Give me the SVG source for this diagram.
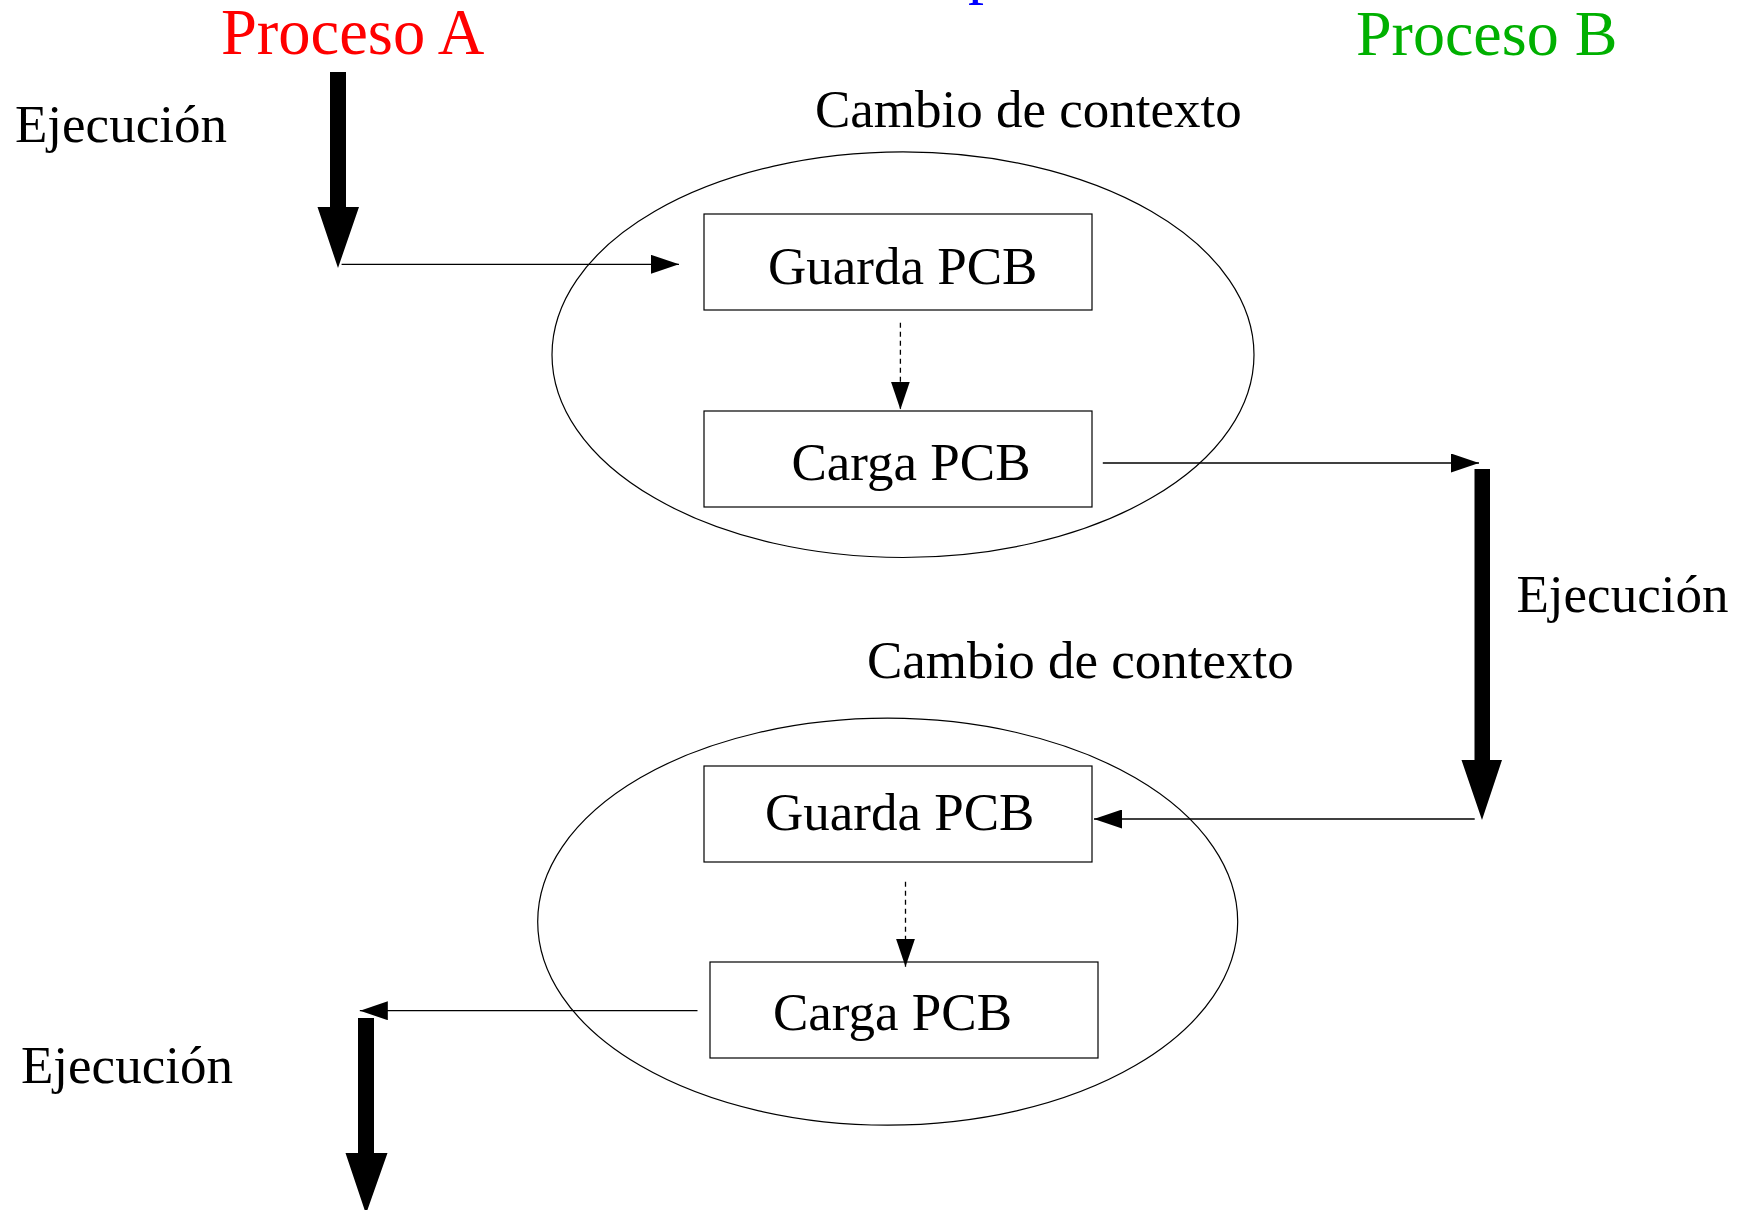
<svg xmlns="http://www.w3.org/2000/svg" width="1740" height="1210" viewBox="0 0 1740 1210">
<style>
text { font-family: "Liberation Serif", "Times New Roman", serif; font-size: 53px; fill: #000; }
.title { font-size: 64px; }
.box { fill: none; stroke: #000; stroke-width: 1.2; }
.ell { fill: none; stroke: #000; stroke-width: 1.2; }
.thin { fill: none; stroke: #000; stroke-width: 1.3; marker-end: url(#ah); }
.dash { fill: none; stroke: #000; stroke-width: 1.3; stroke-dasharray: 5 4; marker-end: url(#ah); }
.thick { fill: #000; stroke: none; }
</style>
<defs>
<marker id="ah" markerUnits="userSpaceOnUse" markerWidth="28" markerHeight="19" refX="28" refY="9.5" orient="auto">
<path d="M0,0 L28,9.5 L0,19 Z" fill="#000"/>
</marker>
</defs>
<rect width="1740" height="1210" fill="#fff"/>
<text class="title" x="968" y="-9" style="fill:#0000ff">p</text>
<g id="procesoA"><text class="title" x="221" y="53.5" style="fill:#ff0000;font-size:64.5px">Proceso A</text></g>
<g id="procesoB"><text class="title" x="1356" y="55" style="fill:#00b000">Proceso B</text></g>
<g id="ejec1"><text x="15" y="141.5">Ejecución</text></g>
<g id="ejec2"><text x="1516.5" y="611.5">Ejecución</text></g>
<g id="ejec3"><text x="21" y="1083">Ejecución</text></g>
<g id="ctx1">
<ellipse class="ell" cx="903" cy="354.7" rx="351" ry="202.8"/>
<text x="815" y="127">Cambio de contexto</text>
</g>
<g id="ctx2">
<ellipse class="ell" cx="887.7" cy="921.7" rx="350" ry="203.5"/>
<text x="867" y="678">Cambio de contexto</text>
</g>
<g id="guarda1"><rect class="box" x="704" y="214" width="388" height="96"/><text x="768" y="283.5">Guarda PCB</text></g>
<g id="carga1"><rect class="box" x="704" y="411" width="388" height="96"/><text x="791.5" y="480">Carga PCB</text></g>
<g id="guarda2"><rect class="box" x="704" y="766" width="388" height="96"/><text x="765" y="829.5">Guarda PCB</text></g>
<g id="carga2"><rect class="box" x="710" y="962" width="388" height="96"/><text x="773" y="1030">Carga PCB</text></g>
<g id="connectors">
<polygon class="thick" points="330,72 346,72 346,207 359,207 338,268 317.5,207 330,207"/>
<polygon class="thick" points="1474.5,469 1490,469 1490,760 1502,760 1482,820 1461.5,760 1474.5,760"/>
<polygon class="thick" points="358,1018 374,1018 374,1153 387.5,1153 366,1214 345.5,1153 358,1153"/>
<line class="thin" x1="341.6" y1="264.3" x2="679" y2="264.3"/>
<line class="thin" x1="1102.8" y1="463" x2="1479" y2="463"/>
<line class="thin" x1="1474.7" y1="819" x2="1094" y2="819"/>
<line class="thin" x1="697.5" y1="1010.7" x2="359.8" y2="1010.7"/>
<line class="dash" x1="900.4" y1="322.7" x2="900.4" y2="409.5"/>
<line class="dash" x1="905.5" y1="881.7" x2="905.5" y2="966.7"/>
</g>
</svg>
